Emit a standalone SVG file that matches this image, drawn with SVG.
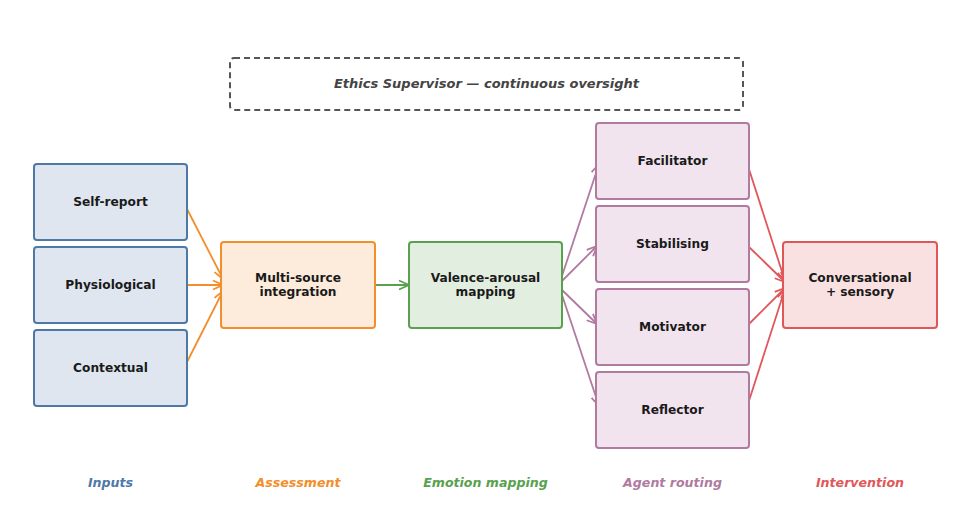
<svg xmlns="http://www.w3.org/2000/svg" width="976" height="530" viewBox="0 0 976 530">
<defs>
<style>
.n{stroke-width:2}
.t{font-family:"DejaVu Sans",sans-serif;font-weight:bold;font-size:12.2px;fill:#1a1a1a;text-anchor:middle}
.lab{font-family:"DejaVu Sans",sans-serif;font-weight:bold;font-style:italic;font-size:12.6px;text-anchor:middle}
.c{fill:none;stroke-width:1.8}
.blue{fill:#dfe6ef;stroke:#4e79a7}
.orange{fill:#fdebdb;stroke:#f28e2b}
.green{fill:#e2eedf;stroke:#59a14f}
.purple{fill:#f1e4ee;stroke:#b07aa1}
.red{fill:#f9e1e2;stroke:#e15759}
</style>
<marker id="ao" viewBox="0 0 12 12" refX="11" refY="6" markerWidth="12" markerHeight="12" markerUnits="userSpaceOnUse" orient="auto"><path d="M1,1.5 L11,6 L1,10.5" fill="none" stroke="#f28e2b" stroke-width="1.8"/></marker>
<marker id="ag" viewBox="0 0 12 12" refX="11" refY="6" markerWidth="12" markerHeight="12" markerUnits="userSpaceOnUse" orient="auto"><path d="M1,1.5 L11,6 L1,10.5" fill="none" stroke="#59a14f" stroke-width="1.8"/></marker>
<marker id="ap" viewBox="0 0 12 12" refX="11" refY="6" markerWidth="12" markerHeight="12" markerUnits="userSpaceOnUse" orient="auto"><path d="M1,1.5 L11,6 L1,10.5" fill="none" stroke="#b07aa1" stroke-width="1.8"/></marker>
<marker id="ar" viewBox="0 0 12 12" refX="11" refY="6" markerWidth="12" markerHeight="12" markerUnits="userSpaceOnUse" orient="auto"><path d="M1,1.5 L11,6 L1,10.5" fill="none" stroke="#e15759" stroke-width="1.8"/></marker>
</defs>
<rect width="976" height="530" fill="#ffffff"/>
<g id="ethics">
<rect x="230" y="58" width="513" height="52" rx="4" fill="none" stroke="#555555" stroke-width="2" stroke-dasharray="6,4"/>
<text x="486.5" y="88" font-family="DejaVu Sans,sans-serif" font-weight="bold" font-style="italic" font-size="13" fill="#444444" text-anchor="middle">Ethics Supervisor — continuous oversight</text>
</g>
<g id="connectors">
<line class="c" x1="185" y1="205" x2="223" y2="279" stroke="#f28e2b" marker-end="url(#ao)"/>
<line class="c" x1="187" y1="285" x2="223" y2="285" stroke="#f28e2b" marker-end="url(#ao)"/>
<line class="c" x1="185" y1="366" x2="223" y2="291" stroke="#f28e2b" marker-end="url(#ao)"/>
<line class="c" x1="374" y1="285" x2="409" y2="285" stroke="#59a14f" marker-end="url(#ag)"/>
<line class="c" x1="560" y1="282" x2="599" y2="164" stroke="#b07aa1" marker-end="url(#ap)"/>
<line class="c" x1="560" y1="283" x2="597" y2="246" stroke="#b07aa1" marker-end="url(#ap)"/>
<line class="c" x1="560" y1="288" x2="597" y2="324" stroke="#b07aa1" marker-end="url(#ap)"/>
<line class="c" x1="560" y1="289" x2="599" y2="406" stroke="#b07aa1" marker-end="url(#ap)"/>
<line class="c" x1="747" y1="163" x2="785" y2="281" stroke="#e15759" marker-end="url(#ar)"/>
<line class="c" x1="748" y1="246" x2="785" y2="282" stroke="#e15759" marker-end="url(#ar)"/>
<line class="c" x1="748" y1="325" x2="785" y2="288" stroke="#e15759" marker-end="url(#ar)"/>
<line class="c" x1="747" y1="407" x2="785" y2="289" stroke="#e15759" marker-end="url(#ar)"/>
</g>
<g id="self-report"><rect class="n blue" x="34" y="164" width="153" height="76" rx="3"/><text class="t" x="110.5" y="206">Self-report</text></g>
<g id="physiological"><rect class="n blue" x="34" y="247" width="153" height="76" rx="3"/><text class="t" x="110.5" y="289">Physiological</text></g>
<g id="contextual"><rect class="n blue" x="34" y="330" width="153" height="76" rx="3"/><text class="t" x="110.5" y="372">Contextual</text></g>
<g id="assessment"><rect class="n orange" x="221" y="242" width="154" height="86" rx="3"/><text class="t" x="298" y="282">Multi-source</text><text class="t" x="298" y="296">integration</text></g>
<g id="emotion"><rect class="n green" x="409" y="242" width="153" height="86" rx="3"/><text class="t" x="485.5" y="282">Valence-arousal</text><text class="t" x="485.5" y="296">mapping</text></g>
<g id="facilitator"><rect class="n purple" x="596" y="123" width="153" height="76" rx="3"/><text class="t" x="672.5" y="165">Facilitator</text></g>
<g id="stabilising"><rect class="n purple" x="596" y="206" width="153" height="76" rx="3"/><text class="t" x="672.5" y="248">Stabilising</text></g>
<g id="motivator"><rect class="n purple" x="596" y="289" width="153" height="76" rx="3"/><text class="t" x="672.5" y="331">Motivator</text></g>
<g id="reflector"><rect class="n purple" x="596" y="372" width="153" height="76" rx="3"/><text class="t" x="672.5" y="414">Reflector</text></g>
<g id="intervention"><rect class="n red" x="783" y="242" width="154" height="86" rx="3"/><text class="t" x="860" y="282">Conversational</text><text class="t" x="860" y="296">+ sensory</text></g>
<g id="labels">
<text class="lab" x="110.5" y="487" fill="#4e79a7">Inputs</text>
<text class="lab" x="298" y="487" fill="#f28e2b">Assessment</text>
<text class="lab" x="485.5" y="487" fill="#59a14f">Emotion mapping</text>
<text class="lab" x="672.5" y="487" fill="#b07aa1">Agent routing</text>
<text class="lab" x="860" y="487" fill="#e15759">Intervention</text>
</g>
</svg>
